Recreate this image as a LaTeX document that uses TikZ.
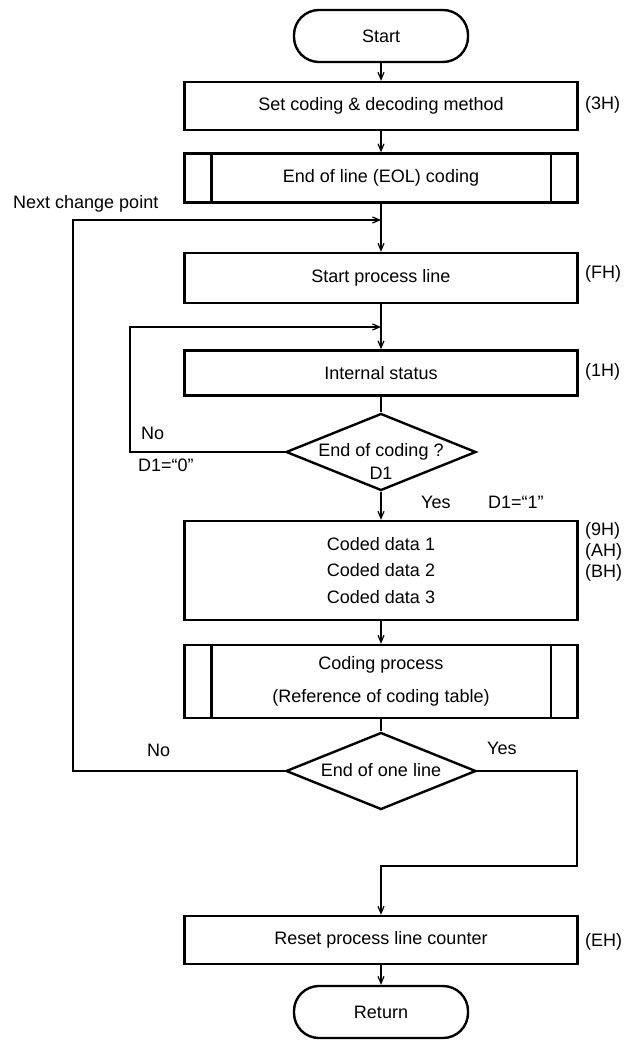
\documentclass[tikz,border=0pt]{standalone}
\usepackage{fontspec}
\setmainfont{Liberation Sans}
\usetikzlibrary{arrows.meta,shapes.geometric}
\begin{document}
\begin{tikzpicture}[x=1pt,y=-1pt,
  every node/.style={font=\fontsize{18}{22}\selectfont},
  box/.style={draw,line width=2.4pt,minimum width=393pt,inner sep=0pt,align=center},
  term/.style={draw,line width=2.4pt,rounded corners=25pt,minimum width=174pt,minimum height=52pt,inner sep=0pt},
  dia/.style={draw,diamond,line width=2.4pt,minimum width=190pt,minimum height=77pt,inner sep=0pt},
  conn/.style={line width=1.2pt},
  arr/.style={conn,-{Straight Barb[length=7pt,width=6pt]}},
  lbl/.style={anchor=west,inner sep=0pt}]
\useasboundingbox (0,0) rectangle (633,1040);

% nodes
\node[term] (start) at (381,36) {Start};
\node[box,minimum height=48pt] (set) at (381,106) {Set coding \& decoding method};
\node[box,minimum height=49pt] (eol) at (381,178) {End of line (EOL) coding};
\node[box,minimum height=50pt] (spl) at (381,278) {Start process line};
\node[box,minimum height=45pt] (ist) at (381,373) {Internal status};
\node[dia] (d1) at (381,452) {};
\node[align=center,inner sep=0pt] (d1t) at (381,461) {End of coding ?\\[1pt]D1};
\node[box,minimum height=99pt] (cod) at (381,570.5) {Coded data 1\\[4.5pt]Coded data 2\\[4.5pt]Coded data 3};
\node[box,minimum height=73pt] (cp) at (381,681.5) {Coding process\\[11pt](Reference of coding table)};
\node[dia] (d2) at (381,771) {};
\node[inner sep=0pt] (d2t) at (381,770) {End of one line};
\node[box,minimum height=48pt] (rst) at (381,940) {Reset process line counter};
\node[term] (ret) at (381,1012) {Return};

% predefined process side bars
\draw[line width=2.4pt] ([xshift=28pt]eol.north west) -- ([xshift=28pt]eol.south west);
\draw[line width=2.4pt] ([xshift=-28pt]eol.north east) -- ([xshift=-28pt]eol.south east);
\draw[line width=2.4pt] ([xshift=28pt]cp.north west) -- ([xshift=28pt]cp.south west);
\draw[line width=2.4pt] ([xshift=-28pt]cp.north east) -- ([xshift=-28pt]cp.south east);

% side labels
\node[lbl] (l3h) at (585,105) {(3H)};
\node[lbl] (lfh) at (585,274) {(FH)};
\node[lbl] (l1h) at (585,372) {(1H)};
\node[lbl] (l9h) at (585,531) {(9H)};
\node[lbl] (lah) at (585,552) {(AH)};
\node[lbl] (lbh) at (585,573) {(BH)};
\node[lbl] (leh) at (585,942) {(EH)};

% branch labels
\node[lbl] (ncp) at (13,204) {Next change point};
\node[lbl] (no1) at (141,433) {No};
\node[lbl] (d10) at (138,465) {D1=“0”};
\node[lbl] (yes1) at (421,502) {Yes};
\node[lbl] (d11) at (488,502) {D1=“1”};
\node[lbl] (no2) at (147,750) {No};
\node[lbl] (yes2) at (487,748) {Yes};

% coordinates
\coordinate (j1) at (381,220);
\coordinate (j2) at (381,327);
\coordinate (c1) at (73,771);
\coordinate (c2) at (73,220);
\coordinate (c3) at (130,452);
\coordinate (c4) at (130,327);
\coordinate (c5) at (577,771);
\coordinate (c6) at (577,866);
\coordinate (c7) at (381,866);

% connectors
\draw[arr] (start.south) -- (set.north);
\draw[arr] (set.south) -- (eol.north);
\draw[arr] (eol.south) -- (spl.north);
\draw[arr] (d2.west) -- (c1) -- (c2) -- (j1);
\draw[arr] (spl.south) -- (ist.north);
\draw[arr] (d1.west) -- (c3) -- (c4) -- (j2);
\draw[conn] (ist.south) -- (d1.north);
\draw[arr] (d1.south) -- (cod.north);
\draw[arr] (cod.south) -- (cp.north);
\draw[conn] (cp.south) -- (d2.north);
\draw[arr] (d2.east) -- (c5) -- (c6) -- (c7) -- (rst.north);
\draw[arr] (rst.south) -- (ret.north);
\end{tikzpicture}
\end{document}
